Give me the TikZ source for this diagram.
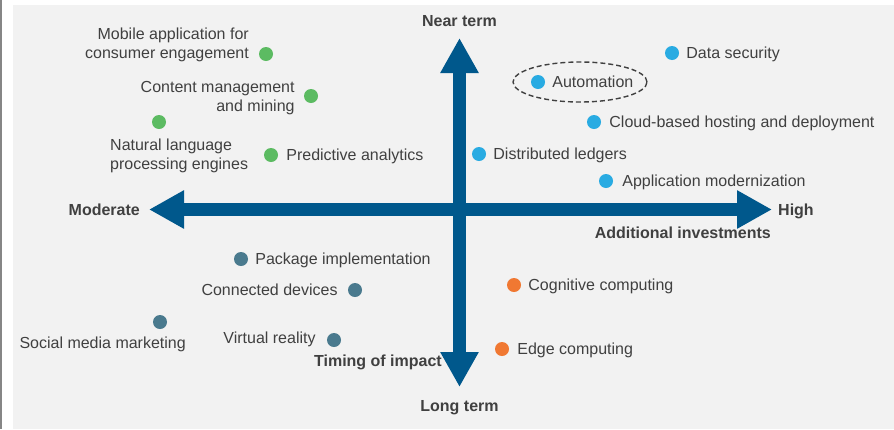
\documentclass[tikz,border=0pt]{standalone}
\usepackage{fontspec}
\setmainfont{Liberation Sans}
\usetikzlibrary{positioning,arrows.meta}
\definecolor{axisblue}{RGB}{0,88,140}
\definecolor{dotgreen}{RGB}{92,187,98}
\definecolor{dotblue}{RGB}{41,171,226}
\definecolor{dotteal}{RGB}{74,122,142}
\definecolor{dotorange}{RGB}{240,120,50}
\definecolor{txtgray}{RGB}{64,64,64}
\definecolor{panel}{RGB}{242,242,242}
\begin{document}
\begin{tikzpicture}[x=1pt, y=-1pt, node distance=7pt,
        dot/.style = {circle, minimum size=14pt, inner sep=0pt},
        lbl/.style = {inner sep=0pt, text=txtgray, font=\fontsize{16}{19}\selectfont},
        one/.style = {lbl, text height=12.5pt, text depth=1.5pt},
        head/.style = {one, font=\fontsize{16}{19}\selectfont\bfseries},
        axis/.style = {draw=axisblue, line width=13pt, {Triangle[length=35pt, width=36pt]}-{Triangle[length=35pt, width=36pt]}}]
    \useasboundingbox (0,0) rectangle (894,429);
    \fill[white] (0,0) rectangle (894,429);
    \fill[gray!95] (0,0) rectangle (2.3,429);
    \fill[panel] (13,5) rectangle (894,429);
    % axes
    \coordinate (lft) at (149,209.5);
    \coordinate (rgt) at (772,209.5);
    \coordinate (top) at (459.5,38);
    \coordinate (bot) at (459.5,387);
    \draw[axis] (lft) -- (rgt);
    \draw[axis] (top) -- (bot);
    \node[head] (near) [above=10pt of top] {Near term};
    \node[head] (long) [below=11.5pt of bot] {Long term};
    \node[head] (mod) [left=9pt of lft] {Moderate};
    \node[head] (high) [right=6pt of rgt] {High};
    \node[head, anchor=east] (inv) at (771,233) {Additional investments};
    \node[head, anchor=east] (tim) at (442,361) {Timing of impact};
    % near term, moderate
    \node[dot, fill=dotgreen] (mob) at (266,54) {};
    \node[dot, fill=dotgreen] (cnt) at (311,96) {};
    \node[dot, fill=dotgreen] (nlp) at (159,122) {};
    \node[dot, fill=dotgreen] (pre) at (271,155) {};
    \node[lbl, align=right, anchor=east] (mob-l) at (249,44.5) {Mobile application for\\consumer engagement};
    \node[lbl, align=right] (cnt-l) [left=9pt of cnt, yshift=-2pt] {Content management\\and mining};
    \node[lbl, align=left, anchor=west] (nlp-l) at (110,155.5) {Natural language\\processing engines};
    \node[one] (pre-l) [right=8pt of pre] {Predictive analytics};
    % near term, high
    \node[dot, fill=dotblue] (sec) at (672,53) {};
    \node[dot, fill=dotblue] (aut) at (538,82) {};
    \node[dot, fill=dotblue] (cld) at (594,122) {};
    \node[dot, fill=dotblue] (dis) at (479,154) {};
    \node[dot, fill=dotblue] (app) at (606,181) {};
    \node[one] (sec-l) [right=of sec] {Data security};
    \node[one] (aut-l) [right=of aut] {Automation};
    \node[one] (cld-l) [right=8pt of cld] {Cloud-based hosting and deployment};
    \node[one] (dis-l) [right=of dis] {Distributed ledgers};
    \node[one] (app-l) [right=9pt of app] {Application modernization};
    \draw[txtgray, line width=1.4pt, dash pattern=on 5pt off 3pt] (580,82) ellipse [x radius=67pt, y radius=20pt];
    % long term, moderate
    \node[dot, fill=dotteal] (pkg) at (241,259) {};
    \node[dot, fill=dotteal] (con) at (355,290) {};
    \node[dot, fill=dotteal] (soc) at (160,322) {};
    \node[dot, fill=dotteal] (vr) at (334,340) {};
    \node[one] (pkg-l) [right=of pkg] {Package implementation};
    \node[one] (con-l) [left=10pt of con] {Connected devices};
    \node[one, anchor=east] (soc-l) at (186,343) {Social media marketing};
    \node[one] (vr-l) [left=11pt of vr, yshift=2pt] {Virtual reality};
    % long term, high
    \node[dot, fill=dotorange] (cog) at (514,285) {};
    \node[dot, fill=dotorange] (edg) at (502,349) {};
    \node[one] (cog-l) [right=of cog] {Cognitive computing};
    \node[one] (edg-l) [right=8pt of edg] {Edge computing};
\end{tikzpicture}
\end{document}
